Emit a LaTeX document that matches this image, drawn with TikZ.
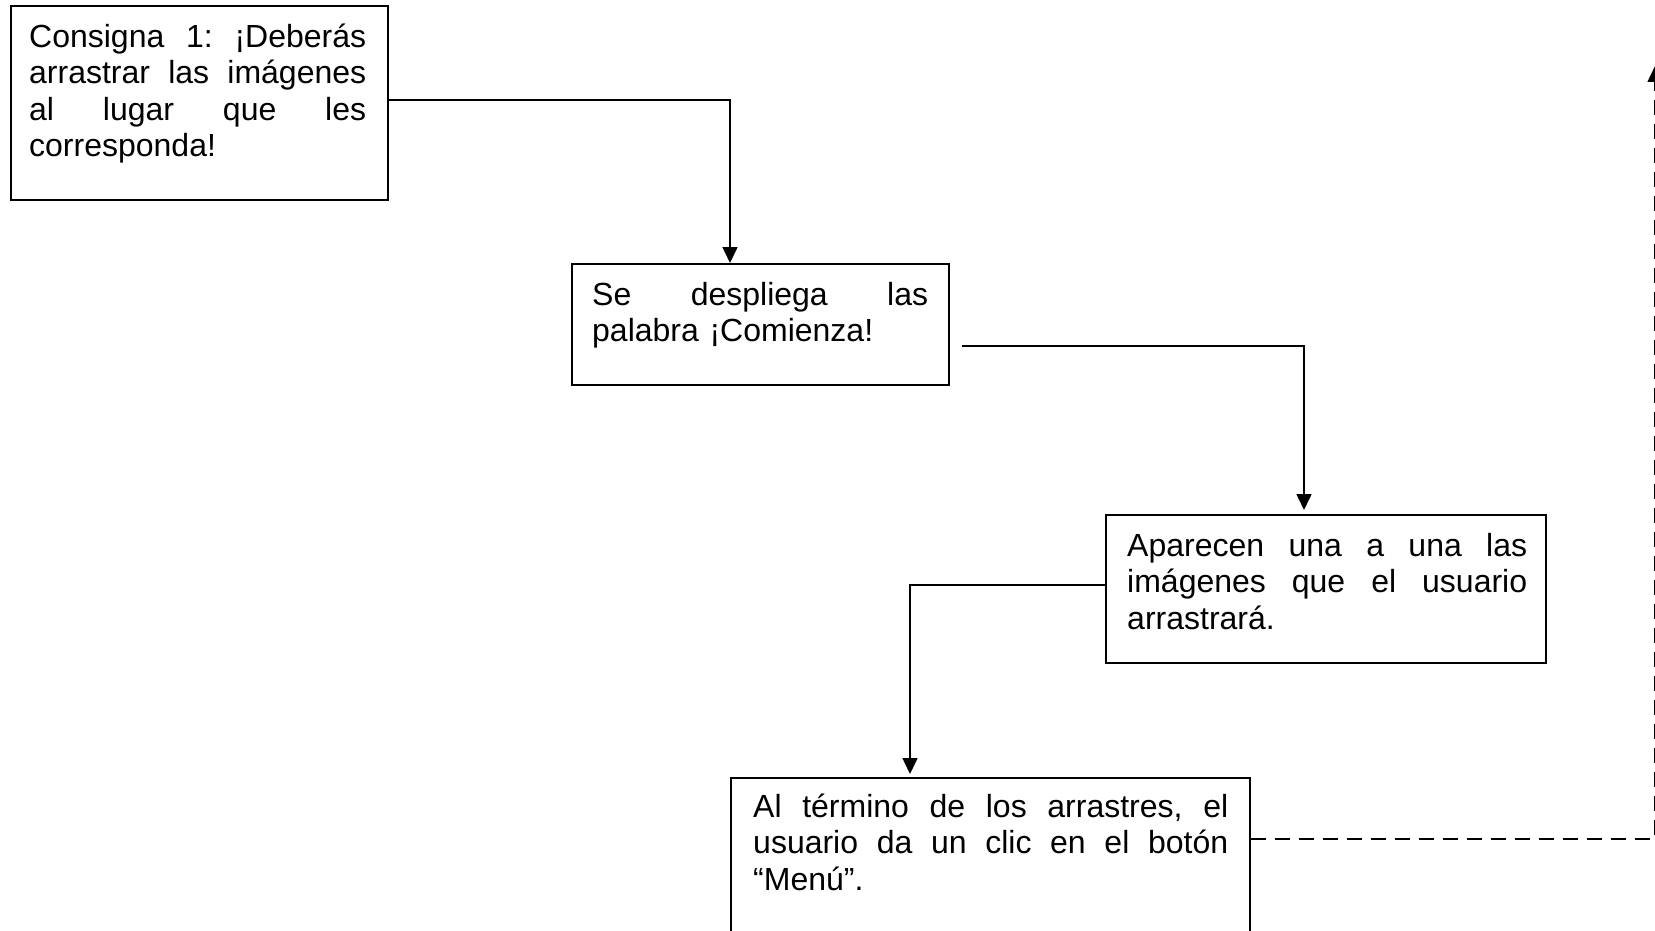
\documentclass[tikz,border=0pt]{standalone}
\usepackage{fontspec}
\setmainfont{Liberation Sans}
\usetikzlibrary{arrows.meta}
\setlength\lineskiplimit{-30pt}
\begin{document}
\begin{tikzpicture}[x=1pt,y=-1pt,
  box/.style={draw, line width=1.6pt, inner sep=0pt, anchor=north west},
  txt/.style={inner sep=0pt, anchor=north west, align=left, font=\fontsize{32}{36.6}\selectfont},
  conn/.style={line width=1.6pt, -{Triangle[width=15pt,length=16pt]}},
  dconn/.style={line width=1.6pt, dash pattern=on 15pt off 9pt, -{Triangle[width=15pt,length=16pt]}}]
\clip (0,0) rectangle (1655,931);
\fill[white] (0,0) rectangle (1655,931);
% boxes
\node[box, minimum width=377pt, minimum height=194pt] (b1) at (10,5) {};
\node[box, minimum width=377pt, minimum height=121pt] (b2) at (571,263) {};
\node[box, minimum width=440pt, minimum height=148pt] (b3) at (1105,514) {};
\node[box, minimum width=519pt, minimum height=220pt] (b4) at (730,777) {};
% texts
\node[txt, text width=337pt] (t1) at (29,17) {\rule{0pt}{30pt}\makebox[337pt][s]{Consigna\hfill 1:\hfill ¡Deberás}\\\makebox[337pt][s]{arrastrar\hfill las\hfill imágenes}\\\makebox[337pt][s]{al\hfill lugar\hfill que\hfill les}\\corresponda!};
\node[txt, text width=336pt] (t2) at (592,275) {\rule{0pt}{30pt}\makebox[336pt][s]{Se\hfill despliega\hfill las}\\palabra ¡Comienza!};
\node[txt, text width=400pt] (t3) at (1127,526) {\rule{0pt}{30pt}\makebox[400pt][s]{Aparecen\hfill una\hfill a\hfill una\hfill las}\\\makebox[400pt][s]{imágenes\hfill que\hfill el\hfill usuario}\\arrastrará.};
\node[txt, text width=475pt] (t4) at (753,787) {\rule{0pt}{30pt}\makebox[475pt][s]{Al\hfill término\hfill de\hfill los\hfill arrastres,\hfill el}\\\makebox[475pt][s]{usuario\hfill da\hfill un\hfill clic\hfill en\hfill el\hfill botón}\\“Menú”.};
% connectors
\coordinate (s2) at ([xshift=12pt]b2.east);
\coordinate (dt) at (1655,66);
\draw[conn] (b1.east |- 0,100) -| (b2.north -| 730,0);
\draw[conn] (s2 |- 0,346) -| ([yshift=4pt]b3.north -| 1304,0);
\draw[conn] (b3.west |- 0,585) -| ([yshift=3pt]b4.north -| 910,0);
\draw[dconn] (b4.east |- 0,839) -| (dt);
\end{tikzpicture}
\end{document}
